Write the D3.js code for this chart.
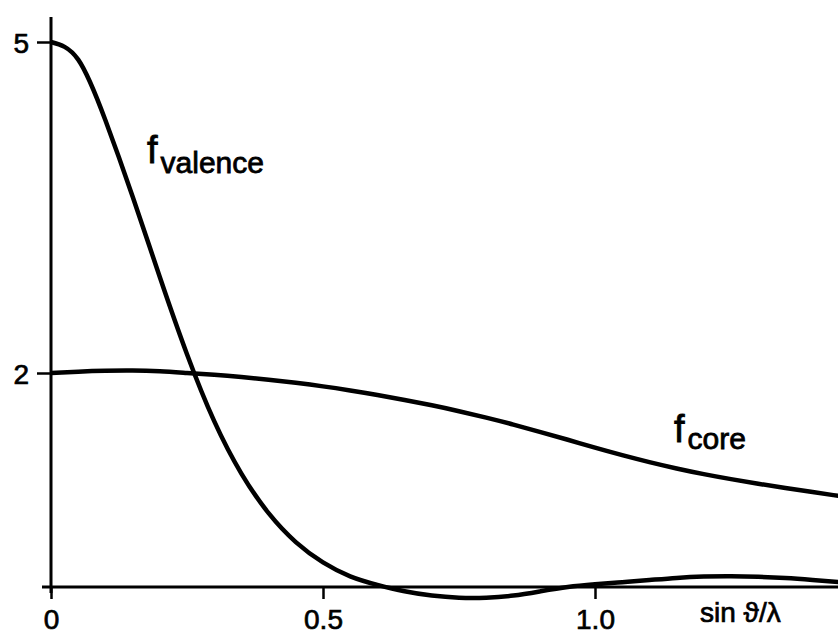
<!DOCTYPE html>
<html>
<head>
<meta charset="utf-8">
<script src="https://cdnjs.cloudflare.com/ajax/libs/d3/7.8.5/d3.min.js"></script>
<style>
  body { margin: 0; background: #fff; }
  svg { display: block; }
</style>
</head>
<body>
<script>
// sin(theta)/lambda sample points
var sinThetaLambda = [0, 0.05, 0.1, 0.15, 0.2, 0.25, 0.3, 0.35, 0.4, 0.45, 0.5, 0.55, 0.6, 0.65, 0.7,
                      0.75, 0.8, 0.85, 0.9, 0.95, 1.0, 1.05, 1.1, 1.15, 1.2, 1.25, 1.3, 1.35, 1.4, 1.45];
var fValence = [5.0, 4.84, 4.29, 3.60, 2.87, 2.17, 1.55, 1.06, 0.69, 0.42, 0.23, 0.10, 0.02, -0.04, -0.08,
                -0.10, -0.10, -0.08, -0.04, 0.0, 0.025, 0.045, 0.065, 0.085, 0.097, 0.10, 0.095, 0.083, 0.065, 0.045];
var fCore = [2.0, 2.012, 2.02, 2.022, 2.015, 2.0, 1.983, 1.962, 1.937, 1.908, 1.875, 1.837, 1.795, 1.748, 1.698,
             1.643, 1.583, 1.518, 1.448, 1.376, 1.302, 1.232, 1.167, 1.108, 1.055, 1.008, 0.965, 0.925, 0.887, 0.85];
var xTicks = [0, 0.5, 1.0];
var xTickLabels = ["0", "0.5", "1.0"];
var yTicks = [2, 5];

var w = 838;
var h = 638;
var font = "'Liberation Sans', Arial, Helvetica, sans-serif";

var svg = d3.select("body")
  .append("svg")
  .attr("width", w)
  .attr("height", h);

var x = d3.scaleLinear().domain([0, 1.0]).range([51, 595]);
// the scanned axis isn't quite linear, so pin 0, 2 and 5 separately
var y = d3.scaleLinear().domain([0, 2, 5]).range([587, 373, 42]);

// x axis
var xAxis = svg.append("g")
  .attr("transform", "translate(0," + y(0) + ")")
  .call(d3.axisBottom(x).tickValues(xTicks).tickSize(12).tickSizeOuter(0)
    .tickFormat(function(d, i) { return xTickLabels[i]; }));
xAxis.select(".domain").remove();
xAxis.append("line")
  .attr("x1", 42).attr("x2", w)
  .attr("y1", 0).attr("y2", 0)
  .attr("stroke", "#000")
  .attr("stroke-width", 3);
xAxis.selectAll(".tick line").attr("stroke-width", 2.5);
xAxis.selectAll(".tick text")
  .attr("y", 42)
  .attr("dy", 0)
  .attr("fill", "#000")
  .attr("stroke", "#000")
  .attr("stroke-width", 0.7)
  .attr("font-family", font)
  .attr("font-size", "28px");

// y axis
var yAxis = svg.append("g")
  .attr("transform", "translate(" + x(0) + ",0)")
  .call(d3.axisLeft(y).tickValues(yTicks).tickSize(14).tickPadding(8).tickFormat(d3.format("d")));
yAxis.select(".domain").remove();
yAxis.append("line")
  .attr("x1", 0).attr("x2", 0)
  .attr("y1", 17).attr("y2", 593)
  .attr("stroke", "#000")
  .attr("stroke-width", 3);
yAxis.selectAll(".tick line").attr("stroke-width", 2.5);
yAxis.selectAll(".tick text")
  .attr("x", -22)
  .attr("dy", "0.36em")
  .attr("fill", "#000")
  .attr("stroke", "#000")
  .attr("stroke-width", 0.7)
  .attr("font-family", font)
  .attr("font-size", "28px");

// curves
var series = [fValence, fCore];
var line = d3.line()
  .x(function(d, i) { return x(sinThetaLambda[i]); })
  .y(function(d) { return y(d); })
  .curve(d3.curveNatural);

svg.append("clipPath").attr("id", "clip")
  .append("rect").attr("x", 0).attr("y", 0).attr("width", w).attr("height", h);

svg.selectAll("path.curve")
  .data(series)
  .enter()
  .append("path")
  .attr("class", "curve")
  .attr("clip-path", "url(#clip)")
  .attr("d", line)
  .attr("fill", "none")
  .attr("stroke", "#000")
  .attr("stroke-width", 4.5)
  .attr("stroke-linejoin", "round");

// curve labels
var labels = [
  {sub: "valence", x: 147, y: 163, dy: 10},
  {sub: "core", x: 674, y: 442, dy: 7}
];
var lbl = svg.selectAll("text.lbl")
  .data(labels)
  .enter()
  .append("text")
  .attr("class", "lbl")
  .attr("x", function(d) { return d.x; })
  .attr("y", function(d) { return d.y; })
  .attr("font-family", font)
  .attr("fill", "#000")
  .attr("stroke", "#000")
  .attr("stroke-width", 0.8);
lbl.append("tspan").attr("font-size", "38px").text("f");
lbl.append("tspan")
  .attr("font-size", "30px")
  .attr("dx", 3)
  .attr("dy", function(d) { return d.dy; })
  .text(function(d) { return d.sub; });

// axis title
svg.append("text")
  .attr("x", 700)
  .attr("y", 622)
  .attr("font-family", font)
  .attr("font-size", "28px")
  .attr("fill", "#000")
  .attr("stroke", "#000")
  .attr("stroke-width", 0.7)
  .text("sin ϑ/λ");
</script>
</body>
</html>
